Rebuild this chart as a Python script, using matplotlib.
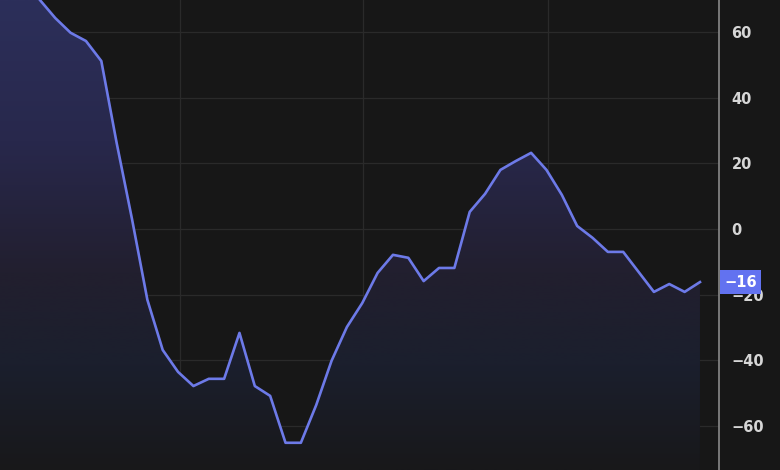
import matplotlib
matplotlib.use("Agg")
import matplotlib.pyplot as plt
import numpy as np
from matplotlib.colors import LinearSegmentedColormap
from matplotlib.transforms import blended_transform_factory

# ---- data ----
values = [90.0, 83.5, 76.5, 69.8, 64.3, 59.8, 57.3, 51.2, 26.2, 3.0,
          -21.6, -36.9, -43.6, -47.9, -45.7, -45.7, -31.7, -47.9, -50.9, -65.2,
          -65.2, -53.7, -40.2, -29.9, -22.6, -13.4, -7.9, -8.8, -15.9, -11.9,
          -11.9, 5.2, 10.7, 18.0, 20.7, 23.2, 18.0, 10.4, 0.9, -2.7,
          -7.0, -7.0, -13.1, -19.2, -16.8, -19.2, -16.2]
y_ticks = [60, 40, 20, 0, -20, -40, -60]
x_grid = [12.1, 24.05, 36.1]
last_label = "\u221216"

BG = "#171717"
LINE = "#6d7ae8"

x = np.arange(len(values))
y = np.array(values)

fig = plt.figure(figsize=(7.8, 4.7), dpi=100, facecolor=BG)
ax = fig.add_axes([0, 0, 719 / 780, 1])
ax.set_facecolor(BG)

xmin, xmax = 0.40, 47.24
ymin, ymax = -73.5, 69.8
ax.set_xlim(xmin, xmax)
ax.set_ylim(ymin, ymax)

# grid
for v in y_ticks:
    ax.axhline(v, color="#2a2a2a", lw=0.9, zorder=1)
for g in x_grid:
    ax.axvline(g, color="#2a2a2a", lw=0.9, zorder=1)

# gradient fill under the line
cmap = LinearSegmentedColormap.from_list("fade", [
    (0.0, "#18181a"),
    (0.22, "#1b1f2d"),
    (0.42, "#221f2f"),
    (0.7, "#28284c"),
    (1.0, "#2c2f5a"),
])
grad = np.linspace(0, 1, 256).reshape(-1, 1)
im = ax.imshow(grad, cmap=cmap, origin="lower", aspect="auto",
               extent=[xmin, xmax, ymin, ymax], zorder=2)
poly = ax.fill_between(x, y, ymin, facecolor="none", edgecolor="none")
im.set_clip_path(poly.get_paths()[0], transform=ax.transData)

ax.plot(x, y, color=LINE, lw=1.9, zorder=4)

# axes styling
for side in ["top", "left", "bottom"]:
    ax.spines[side].set_visible(False)
ax.spines["right"].set_color("#8a8a8a")
ax.spines["right"].set_linewidth(1.2)
ax.set_xticks([])
ax.yaxis.tick_right()
ax.set_yticks(y_ticks)
ax.tick_params(axis="y", length=0, pad=9, labelsize=10.5, labelcolor="#d6d6d6")
for lab in ax.get_yticklabels():
    lab.set_fontweight("bold")

# last value tag
trans = blended_transform_factory(ax.transAxes, ax.transData)
ax.annotate(last_label, xy=(1.0, values[-1]), xycoords=trans,
            xytext=(3.8, 0), textcoords="offset points", ha="left", va="center",
            fontsize=10.5, fontweight="bold", color="white", zorder=10,
            annotation_clip=False,
            bbox=dict(boxstyle="square,pad=0.3", facecolor="#6272f0", edgecolor="none"))

fig.savefig("out.png", dpi=100, facecolor=BG)
